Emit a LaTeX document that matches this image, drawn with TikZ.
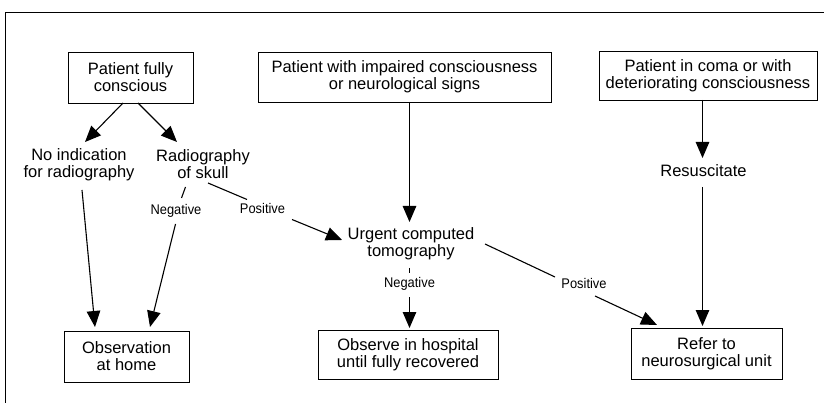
\documentclass[tikz,border=0pt]{standalone}
\usepackage{fontspec}
\usepackage{graphicx}
\setmainfont{Liberation Sans}
\usetikzlibrary{arrows.meta}
\newcommand\mainfs{\fontsize{16.5}{17}\selectfont}
\newcommand\labfs{\fontsize{14}{15}\selectfont}
\newcommand\labtext[1]{\scalebox{0.92}[1]{#1}}
\begin{document}
\begin{tikzpicture}[x=1pt,y=-1pt,
  flowbox/.style={draw, line width=0.8pt, inner sep=0pt, align=center, font=\mainfs},
  plain/.style={inner sep=0pt, align=center, font=\mainfs},
  lab/.style={inner sep=0pt, font=\labfs},
  conn/.style={line width=1.1pt},
  arr/.style={line width=1.1pt, -{Triangle[length=16pt,width=13.5pt]}},
  frameline/.style={line width=0.9pt}]
\useasboundingbox (0,0) rectangle (824,403);
% frame
\coordinate (fbl) at (5,403);
\coordinate (ftl) at (5,12);
\coordinate (ftr) at (824,12);
\draw[frameline] (fbl) -- (ftl) -- (ftr);
% top boxes
\node[flowbox, minimum width=125pt, minimum height=51pt] (b1) at (130.5,77.5) {Patient fully\\conscious};
\node[flowbox, minimum width=293pt, minimum height=50pt] (b2) at (404.5,77) {Patient with impaired consciousness\\or neurological signs};
\node[flowbox, minimum width=218pt, minimum height=49pt] (b3) at (708,75.5) {Patient in coma or with\\deteriorating consciousness};
% middle texts
\node[plain] (n1) at (79,164.5) {No indication\\for radiography};
\node[plain] (n2) at (203,164.5) {Radiography\\of skull};
\node[plain] (res) at (703.5,171) {Resuscitate};
\node[plain] (ct) at (411,243.5) {Urgent computed\\tomography};
% bottom boxes
\node[flowbox, minimum width=125pt, minimum height=51pt] (o1) at (126.5,356.5) {Observation\\at home};
\node[flowbox, minimum width=180pt, minimum height=49.5pt] (o2) at (408,355) {Observe in hospital\\until fully recovered};
\node[flowbox, minimum width=151pt, minimum height=51pt] (o3) at (706.5,353.5) {Refer to\\neurosurgical unit};
% labels
\node[lab] (l1) at (176,210.5) {\labtext{Negative}};
\node[lab] (l2) at (262.5,208) {\labtext{Positive}};
\node[lab] (l3) at (409.5,283.5) {\labtext{Negative}};
\node[lab] (l4) at (584,283) {\labtext{Positive}};
% gap coordinates
\coordinate (g1) at (181.5,198);
\coordinate (g2) at (175.5,224);
\coordinate (g3) at (247,199.5);
\coordinate (g4) at (292,219.5);
\coordinate (g5) at (409.5,273);
\coordinate (g6) at (409.5,297);
\coordinate (g7) at (555,277);
\coordinate (g8) at (595,296);
% connectors
\draw[arr] ([shift={(-7.5,25.5)}]b1.center) -- ([shift={(6,-22.5)}]n1.center);
\draw[arr] ([shift={(7.5,25.5)}]b1.center) -- ([shift={(-26,-22.5)}]n2.center);
\draw[arr] ([shift={(3,25.5)}]n1.center) -- ([shift={(-31.5,-29.5)}]o1.center);
\draw[conn] ([shift={(-17.5,22.5)}]n2.center) -- (g1);
\draw[arr] (g2) -- ([shift={(23.5,-29.5)}]o1.center);
\draw[conn] ([shift={(5,18.5)}]n2.center) -- (g3);
\draw[arr] (g4) -- ([shift={(-69,-3.5)}]ct.center);
\draw[arr] ([shift={(5,25)}]b2.center) -- ([shift={(-1.5,-21.5)}]ct.center);
\draw[conn] ([shift={(-1.5,24.5)}]ct.center) -- (g5);
\draw[arr] (g6) -- ([shift={(1.5,-27)}]o2.center);
\draw[conn] ([shift={(74,0.5)}]ct.center) -- (g7);
\draw[arr] (g8) -- ([shift={(-49.5,-28.5)}]o3.center);
\draw[arr] ([shift={(-5.5,24.5)}]b3.center) -- ([shift={(-1,-13)}]res.center);
\draw[arr] ([shift={(-1,16)}]res.center) -- ([shift={(-4,-27.5)}]o3.center);
\end{tikzpicture}
\end{document}
